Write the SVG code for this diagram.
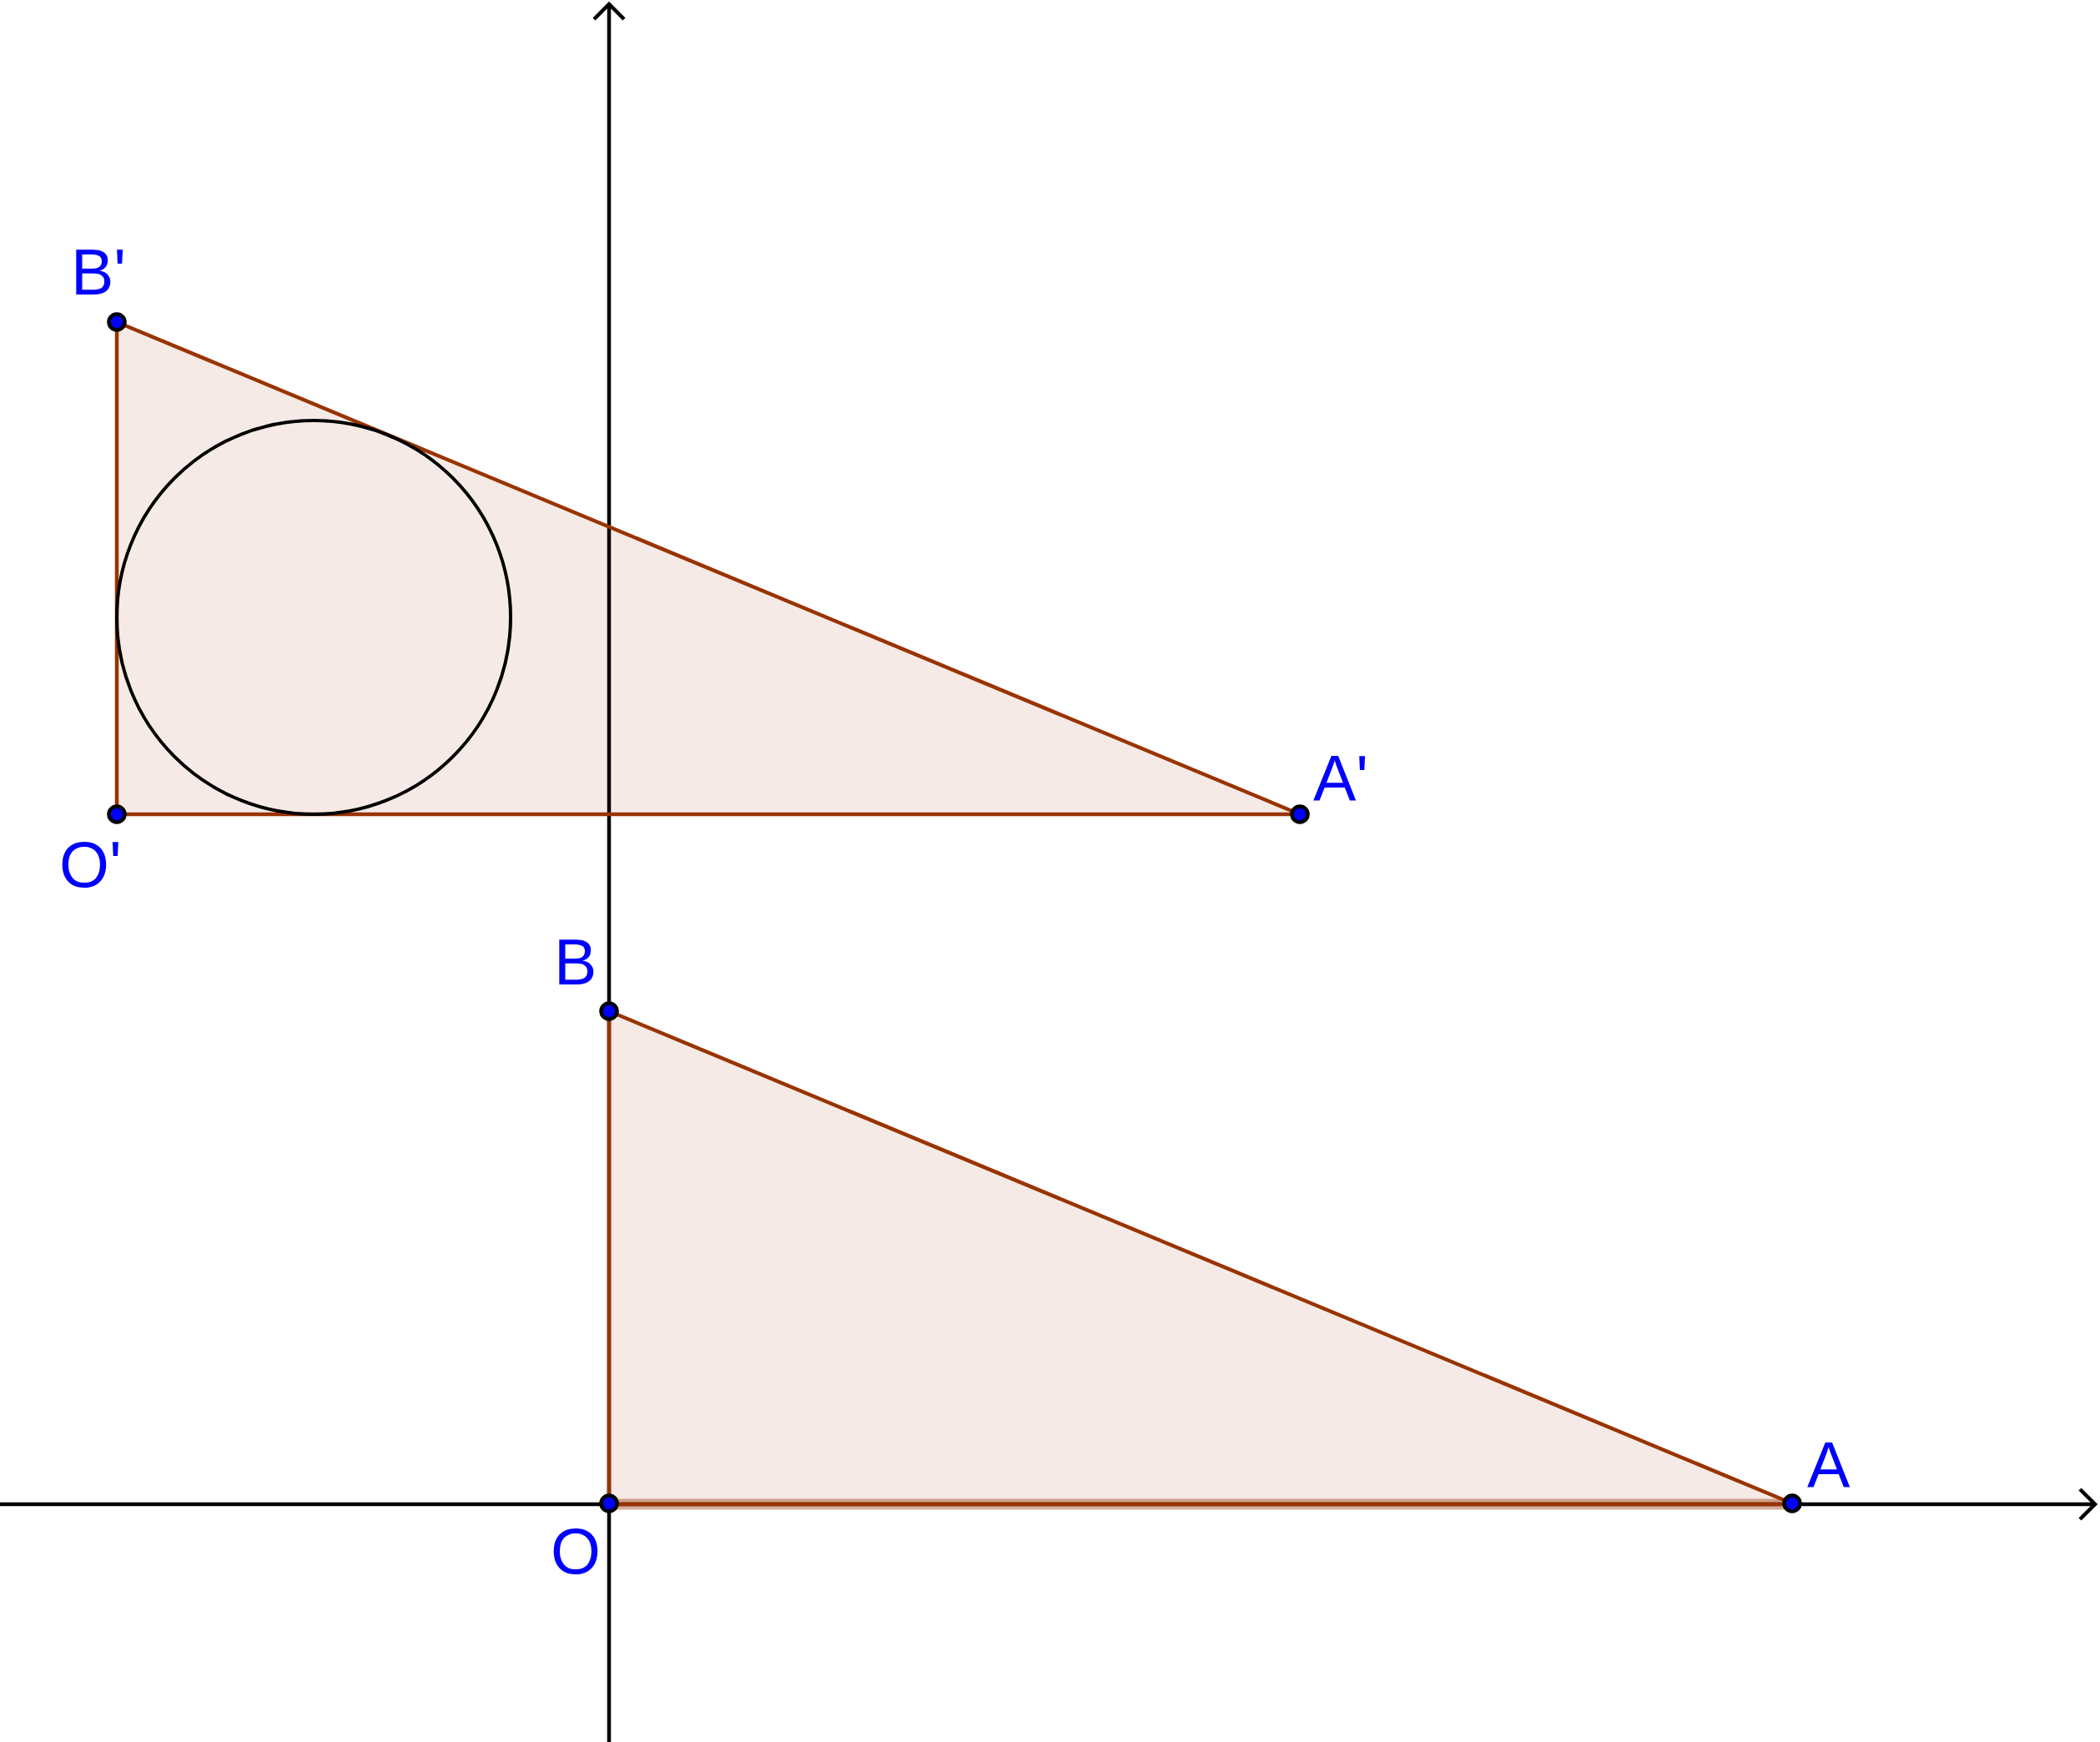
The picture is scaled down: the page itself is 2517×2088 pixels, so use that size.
<svg xmlns="http://www.w3.org/2000/svg" width="2517" height="2088" viewBox="0 0 2517 2088">
<style>
.axis{stroke:#000;stroke-width:4.5;fill:none}
.tri{fill:#993300;fill-opacity:0.1;stroke:none}
.seg{stroke:#993300;stroke-width:4.5;fill:none;stroke-linecap:round}
.pt{fill:#0000ff;stroke:#000;stroke-width:4.5}
.lbl{font-family:"Liberation Sans",Arial,sans-serif;font-size:77px;fill:#0000ff}
</style>
<rect width="2517" height="2088" fill="#fff"/>
<g id="axes">
<line class="axis" x1="0" y1="1803" x2="2511" y2="1803"/>
<polyline class="axis" points="2493,1785 2511,1803 2493,1821"/>
<line class="axis" x1="730" y1="2088" x2="730" y2="5"/>
<polyline class="axis" points="712,23 730,5 748,23"/>
</g>
<g id="triangle-OAB">
<polygon class="tri" points="730,1802 2148,1802 730,1212"/>
<line x1="730" y1="1803" x2="2148" y2="1803" stroke="#993300" stroke-opacity="0.4" stroke-width="13"/>
<line class="seg" x1="730" y1="1803" x2="2148" y2="1803" stroke-width="5.5"/>
<line class="seg" x1="2148" y1="1802" x2="730" y2="1212"/>
<line class="seg" x1="730" y1="1212" x2="730" y2="1802"/>
</g>
<g id="triangle-OpApBp">
<polygon class="tri" points="140,976 1558,976 140,386"/>
<line class="seg" x1="140" y1="976" x2="1558" y2="976"/>
<line class="seg" x1="1558" y1="976" x2="140" y2="386"/>
<line class="seg" x1="140" y1="386" x2="140" y2="976"/>
</g>
<g id="incircle">
<circle cx="376" cy="740" r="236" fill="none" stroke="#000" stroke-width="4"/>
</g>
<g id="point-O"><circle class="pt" cx="730" cy="1802" r="9.5"/><text class="lbl" x="660" y="1886">O</text></g>
<g id="point-A"><circle class="pt" cx="2148" cy="1802" r="9.5"/><text class="lbl" x="2166" y="1783">A</text></g>
<g id="point-B"><circle class="pt" cx="730" cy="1212" r="9.5"/><text class="lbl" x="664" y="1180">B</text></g>
<g id="point-Op"><circle class="pt" cx="140" cy="976" r="9.5"/><text class="lbl" x="71" y="1063">O'</text></g>
<g id="point-Ap"><circle class="pt" cx="1558" cy="976" r="9.5"/><text class="lbl" x="1574" y="960">A'</text></g>
<g id="point-Bp"><circle class="pt" cx="140" cy="386" r="9.5"/><text class="lbl" x="85" y="353">B'</text></g>
</svg>
